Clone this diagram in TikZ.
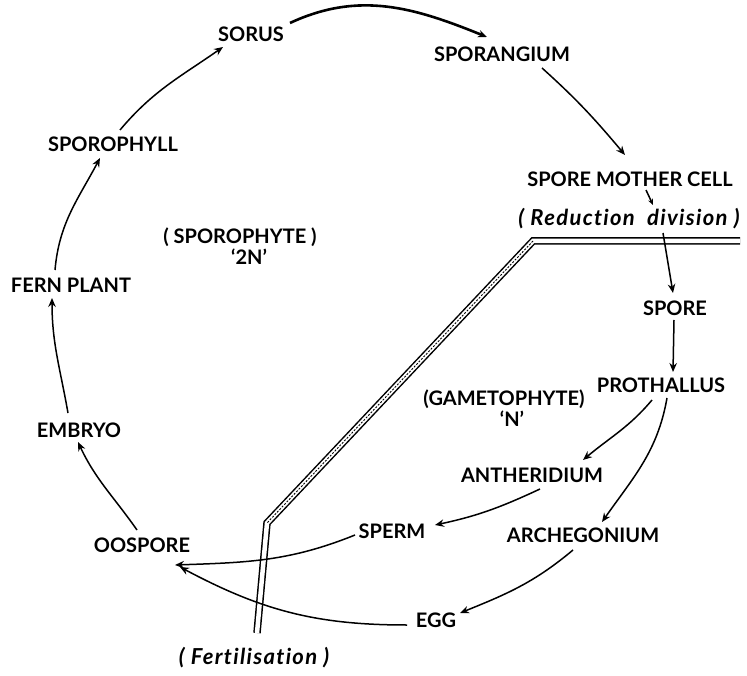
\documentclass[tikz,border=0pt]{standalone}
\usepackage{fontspec}
\setmainfont{Lato}
\usetikzlibrary{arrows.meta}
\begin{document}
\begin{tikzpicture}[x=1pt,y=1pt,
  lbl/.style={inner sep=1pt, font=\fontsize{20}{23}\selectfont\bfseries},
  ilbl/.style={inner sep=1pt, font=\fontsize{22}{25}\selectfont\bfseries\itshape\addfontfeatures{LetterSpace=6,Ligatures={NoCommon,NoRare}}},
  arr/.style={line width=1.5pt, -{Stealth[length=9pt,width=7.5pt,inset=3pt]}}
]
\useasboundingbox (0,0) rectangle (747,-676);
% labels
\node[lbl] (sorus) at (251,-34) {SORUS};
\node[lbl] (sporangium) at (502,-54) {SPORANGIUM};
\node[lbl] (smc) at (630,-179) {SPORE MOTHER CELL};
\node[ilbl] (rd) at (629,-219) {(\ Reduction\ \ division\ )};
\node[lbl] (spore) at (675,-308) {SPORE};
\node[lbl] (prothallus) at (661,-385) {PROTHALLUS};
\node[lbl] (gameto) at (504,-399) {(GAMETOPHYTE)};
\node[lbl] (nn) at (512,-419) {`N'};
\node[lbl] (antheridium) at (532,-475) {ANTHERIDIUM};
\node[lbl] (archegonium) at (583,-535) {ARCHEGONIUM};
\node[lbl] (sperm) at (392,-531) {SPERM};
\node[lbl] (egg) at (436,-620) {EGG};
\node[lbl] (oospore) at (142,-545) {OOSPORE};
\node[lbl] (embryo) at (79,-430) {EMBRYO};
\node[lbl] (fern) at (71,-285) {FERN PLANT};
\node[lbl] (sporophyll) at (113,-144) {SPOROPHYLL};
\node[lbl] (sporophyte) at (240,-237) {( SPOROPHYTE )};
\node[lbl] (twon) at (249,-257) {`2N'};
\node[ilbl] (fert) at (254,-658) {(\ Fertilisation\ )};
% boundary line
\coordinate (b1) at (740,-241);
\coordinate (b2) at (533,-241);
\coordinate (b3) at (267,-523);
\coordinate (b4) at (257,-633);
\draw[line width=7.5pt, line join=miter] (b1) -- (b2) -- (b3) -- (b4);
\draw[white, line width=4.5pt, line join=miter] (b1) -- (b2) -- (b3) -- (b4);
\draw[line width=0.9pt, dash pattern=on 2pt off 1.5pt] (b2) -- (b3);
% arrows
\draw[arr, line width=2.6pt] ([shift={(39,11)}]sorus.center) to[out=25,in=158] ([shift={(-15,17)}]sporangium.center);
\draw[arr] ([shift={(40,-14)}]sporangium.center) to[out=-42,in=130] ([shift={(-5,24)}]smc.center);
\draw[arr, -{Stealth[length=6pt,width=5pt,inset=2pt]}] ([shift={(16,-11)}]smc.center) -- ([shift={(24,14)}]rd.center);
\draw[arr] ([shift={(34,-14)}]rd.center) -- ([shift={(-2,15)}]spore.center);
\draw[arr] ([shift={(-1,-12)}]spore.center) -- ([shift={(12,13)}]prothallus.center);
\draw[arr] ([shift={(-9,-15)}]prothallus.center) to[out=-130,in=40] ([shift={(51,15)}]antheridium.center);
\draw[arr] ([shift={(6,-13)}]prothallus.center) to[out=-100,in=55] ([shift={(19,13)}]archegonium.center);
\draw[arr] ([shift={(8,-14)}]antheridium.center) to[out=-155,in=12] ([shift={(43,6)}]sperm.center);
\draw[arr] ([shift={(-10,-15)}]archegonium.center) to[out=-140,in=22] ([shift={(24,7)}]egg.center);
\draw[arr] ([shift={(-29,-5)}]egg.center) to[out=180,in=-28] ([shift={(38,-22)}]oospore.center);
\draw[arr] ([shift={(-37,-4)}]sperm.center) to[out=-158,in=2] ([shift={(33,-20)}]oospore.center);
\draw[arr] ([shift={(-5,15)}]oospore.center) to[out=125,in=-65] ([shift={(-1,-12)}]embryo.center);
\draw[arr] ([shift={(-11,17)}]embryo.center) to[out=100,in=-90] ([shift={(-19,-13)}]fern.center);
\draw[arr] ([shift={(-16,15)}]fern.center) to[out=85,in=-118] ([shift={(-13,-14)}]sporophyll.center);
\draw[arr] ([shift={(7,14)}]sporophyll.center) to[out=50,in=-145] ([shift={(-28,-13)}]sorus.center);
\end{tikzpicture}
\end{document}
